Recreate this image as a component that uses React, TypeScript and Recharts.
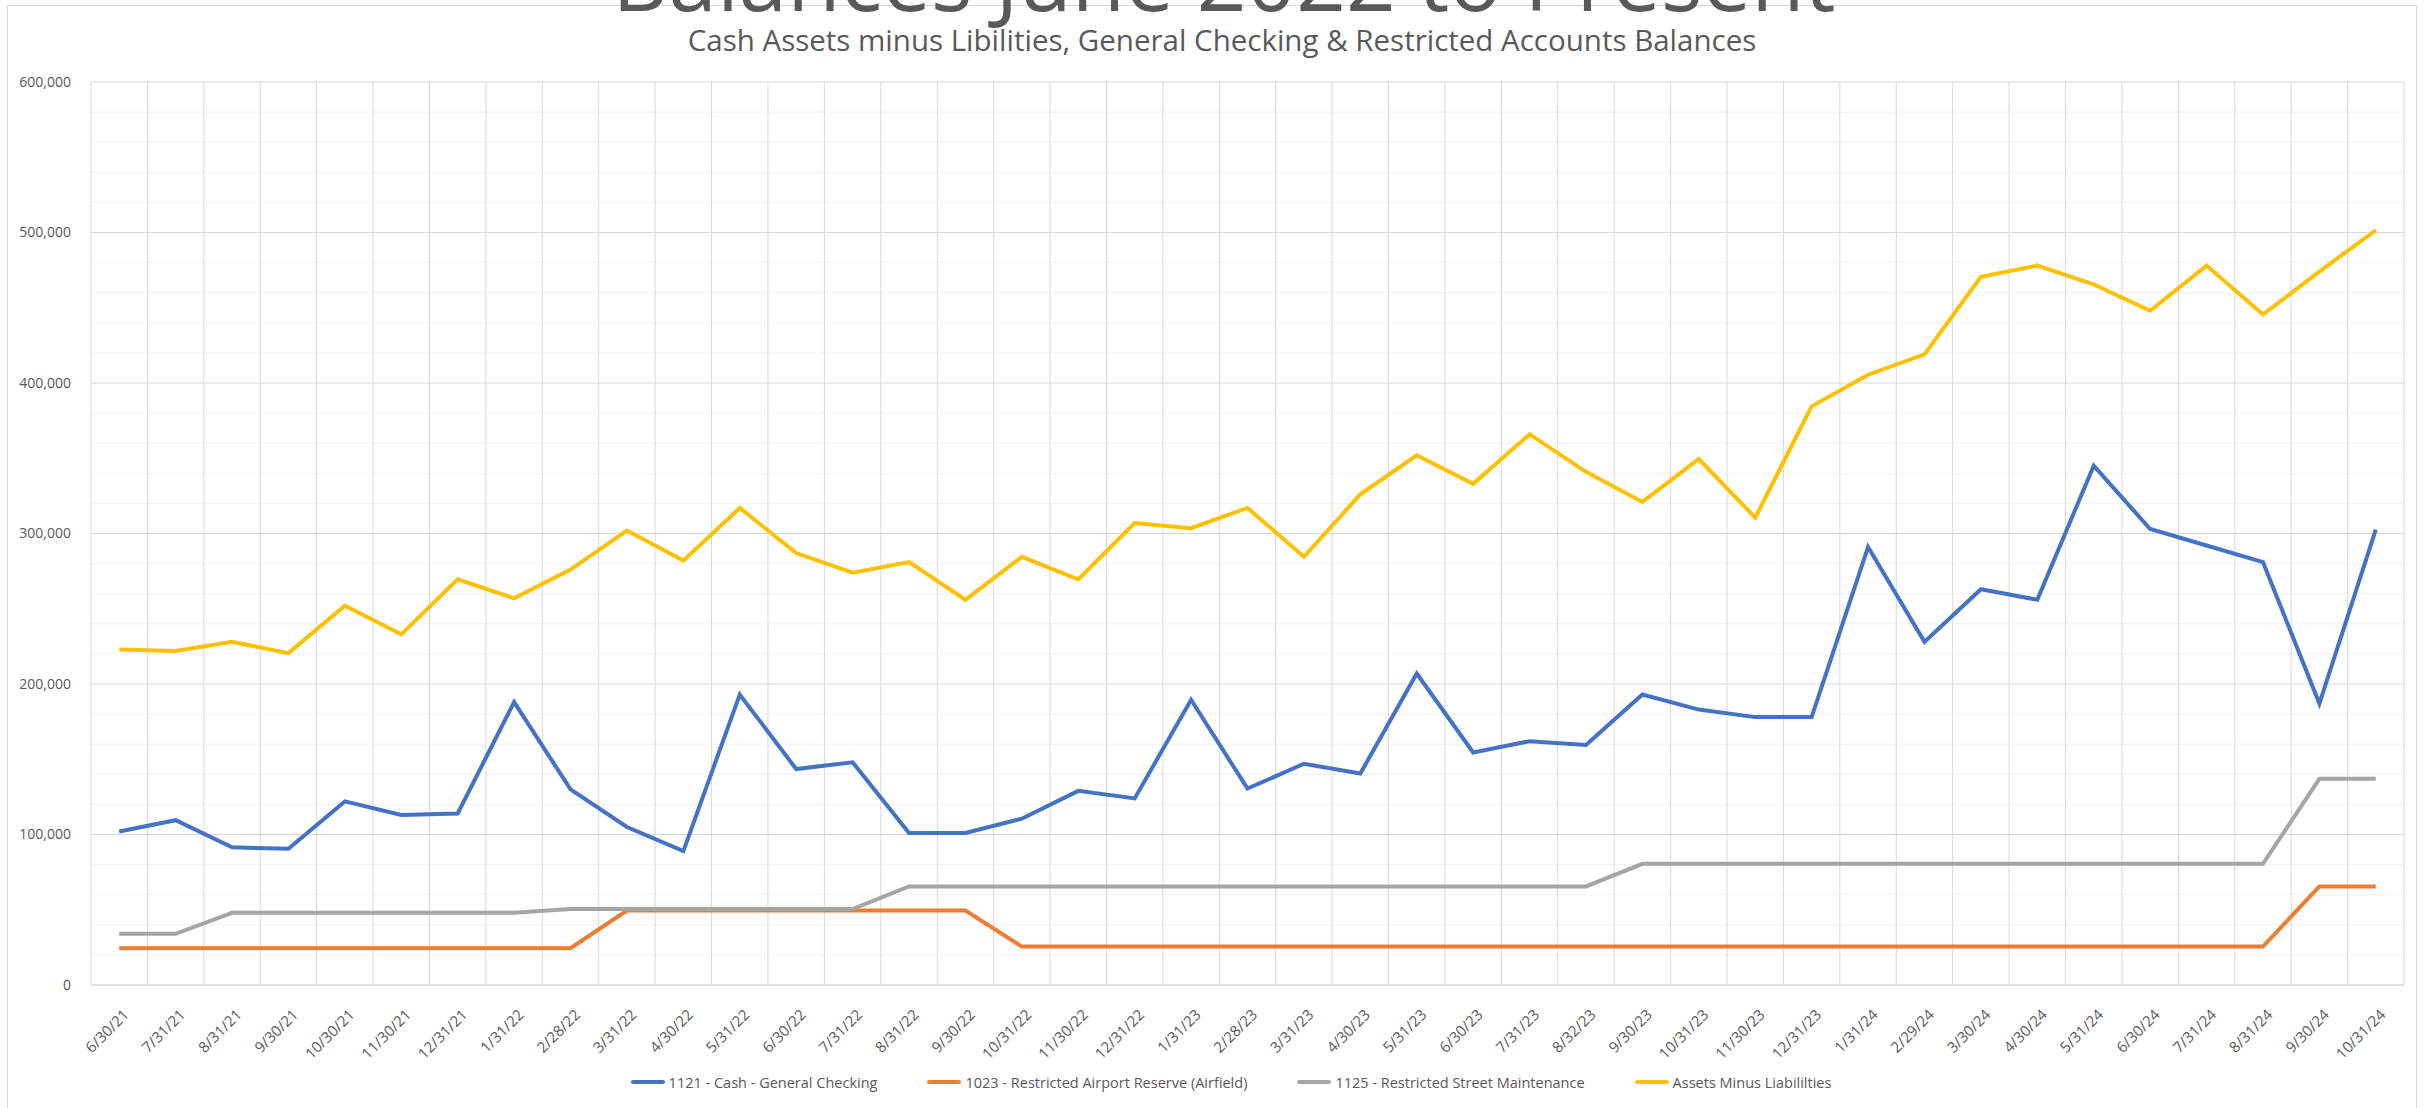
import { LineChart, Line, XAxis, YAxis, CartesianGrid, Legend } from "recharts";

const dates = [
  "6/30/21", "7/31/21", "8/31/21", "9/30/21", "10/30/21", "11/30/21", "12/31/21",
  "1/31/22", "2/28/22", "3/31/22", "4/30/22", "5/31/22", "6/30/22", "7/31/22",
  "8/31/22", "9/30/22", "10/31/22", "11/30/22", "12/31/22", "1/31/23", "2/28/23",
  "3/31/23", "4/30/23", "5/31/23", "6/30/23", "7/31/23", "8/32/23", "9/30/23",
  "10/31/23", "11/30/23", "12/31/23", "1/31/24", "2/29/24", "3/30/24", "4/30/24",
  "5/31/24", "6/30/24", "7/31/24", "8/31/24", "9/30/24", "10/31/24",
];

const cashGeneralChecking = [
  102000, 109500, 91500, 90500, 122000, 113000, 114000, 188000, 130000, 105000,
  89000, 193000, 143500, 148000, 101000, 101000, 110500, 129000, 124000, 189500,
  130500, 147000, 140500, 207000, 154500, 162000, 159500, 193000, 183000, 178000,
  178000, 291000, 228000, 263000, 256000, 345000, 303000, 292000, 281000, 187000,
  302500,
];

const airportReserve = [
  24500, 24500, 24500, 24500, 24500, 24500, 24500, 24500, 24500, 49500,
  49500, 49500, 49500, 49500, 49500, 49500, 25500, 25500, 25500, 25500,
  25500, 25500, 25500, 25500, 25500, 25500, 25500, 25500, 25500, 25500,
  25500, 25500, 25500, 25500, 25500, 25500, 25500, 25500, 25500, 65500,
  65500,
];

const streetMaintenance = [
  34000, 34000, 48000, 48000, 48000, 48000, 48000, 48000, 50500, 50500,
  50500, 50500, 50500, 50500, 65500, 65500, 65500, 65500, 65500, 65500,
  65500, 65500, 65500, 65500, 65500, 65500, 65500, 80500, 80500, 80500,
  80500, 80500, 80500, 80500, 80500, 80500, 80500, 80500, 80500, 137000,
  137000,
];

const assetsMinusLiabilities = [
  223000, 222000, 228000, 220500, 252000, 233000, 269500, 257000, 276000, 302000,
  282000, 317000, 287000, 274000, 281000, 256000, 284500, 269500, 307000, 303500,
  317000, 284500, 326000, 352000, 333000, 366000, 341000, 321000, 349500, 310500,
  384500, 405500, 419000, 470500, 478000, 465500, 448000, 478000, 445500, 474000,
  501500,
];

const majorTicks = [0, 100000, 200000, 300000, 400000, 500000, 600000];
const minorTicks = [
  20000, 40000, 60000, 80000, 120000, 140000, 160000, 180000, 220000, 240000,
  260000, 280000, 320000, 340000, 360000, 380000, 420000, 440000, 460000, 480000,
  520000, 540000, 560000, 580000,
];

const series = [
  { key: "cash", name: "1121 - Cash - General Checking", color: "#4472C4" },
  { key: "airport", name: "1023 - Restricted Airport Reserve (Airfield)", color: "#ED7D31" },
  { key: "street", name: "1125 - Restricted Street Maintenance", color: "#A5A5A5" },
  { key: "assets", name: "Assets Minus Liabililties", color: "#FFC000" },
];

const data = dates.map((date, i) => ({
  date,
  cash: cashGeneralChecking[i],
  airport: airportReserve[i],
  street: streetMaintenance[i],
  assets: assetsMinusLiabilities[i],
}));

const W = 2427;
const H = 1108;
const LEFT = 91;
const RIGHT = 23;
const TOP = 82;
const HALF_CAT = (W - LEFT - RIGHT) / dates.length / 2;
const FONT = "'Open Sans', 'Liberation Sans', sans-serif";
const TEXT = "#595959";
const Y_MAX = 600000;

function XTick({ x, y, payload }: any) {
  return (
    <text
      transform={`translate(${x + 7},${y + 27}) rotate(-45)`}
      textAnchor="end"
      dy="0.35em"
      fontSize={15}
      fontFamily={FONT}
      fill={TEXT}
    >
      {payload.value}
    </text>
  );
}

function LegendContent() {
  return (
    <div
      style={{
        display: "flex",
        justifyContent: "center",
        alignItems: "center",
        gap: 50,
        height: 24,
        paddingLeft: 35,
        fontFamily: FONT,
        fontSize: 14.5,
        color: TEXT,
      }}
    >
      {series.map((s) => (
        <div key={s.key} style={{ display: "flex", alignItems: "center" }}>
          <svg width={34} height={24}>
            <line x1={2} y1={12} x2={32} y2={12} stroke={s.color} strokeWidth={4} strokeLinecap="round" />
          </svg>
          <span style={{ marginLeft: 4, whiteSpace: "nowrap" }}>{s.name}</span>
        </div>
      ))}
    </div>
  );
}

export default function App() {
  return (
    <div style={{ position: "absolute", left: 0, top: 0, width: W, height: H, background: "#fff", overflow: "hidden" }}>
      <LineChart width={W} height={H} data={data} margin={{ top: TOP, right: RIGHT, left: 0, bottom: 14 }}>
        {/* minor gridlines every 20k */}
        <CartesianGrid
          vertical={false}
          stroke="#F2F2F2"
          horizontalCoordinatesGenerator={({ offset }: any) =>
            minorTicks.map((v) => offset.top + offset.height * (1 - v / Y_MAX))
          }
        />
        {/* major gridlines + category boundaries */}
        <CartesianGrid
          stroke="#D9D9D9"
          horizontalCoordinatesGenerator={({ offset }: any) =>
            majorTicks.map((v) => offset.top + offset.height * (1 - v / Y_MAX))
          }
          verticalCoordinatesGenerator={({ offset }: any) =>
            [...dates, ""].map((_, i) => offset.left + (i * offset.width) / dates.length)
          }
        />
        <XAxis
          dataKey="date"
          interval={0}
          height={85}
          padding={{ left: HALF_CAT, right: HALF_CAT }}
          tick={<XTick />}
          tickLine={false}
          tickSize={0}
          tickMargin={0}
          axisLine={{ stroke: "#D9D9D9" }}
        />
        <YAxis
          width={LEFT}
          domain={[0, Y_MAX]}
          ticks={majorTicks}
          tickFormatter={(v: number) => v.toLocaleString("en-US")}
          tick={{ fontSize: 14, fontFamily: FONT, fill: TEXT }}
          tickLine={false}
          tickSize={0}
          tickMargin={20}
          axisLine={false}
        />
        <Legend verticalAlign="bottom" height={24} wrapperStyle={{ left: 0, width: W }} content={() => <LegendContent />} />
        {series.map((s) => (
          <Line
            key={s.key}
            type="linear"
            dataKey={s.key}
            name={s.name}
            stroke={s.color}
            strokeWidth={4}
            dot={false}
            activeDot={false}
            isAnimationActive={false}
          />
        ))}
      </LineChart>
      <svg width={W} height={H} style={{ position: "absolute", left: 0, top: 0, pointerEvents: "none" }}>
        <rect x={7.5} y={5.5} width={2409} height={1110} fill="none" stroke="#D9D9D9" strokeWidth={1} />
        <text x={1224} y={11} textAnchor="middle" fontFamily={FONT} fontSize={87} fill={TEXT}>
          Balances June 2022 to Present
        </text>
        <text x={1222} y={51} textAnchor="middle" fontFamily={FONT} fontSize={29.5} fill={TEXT}>
          Cash Assets minus Libilities, General Checking &amp; Restricted Accounts Balances
        </text>
      </svg>
    </div>
  );
}
